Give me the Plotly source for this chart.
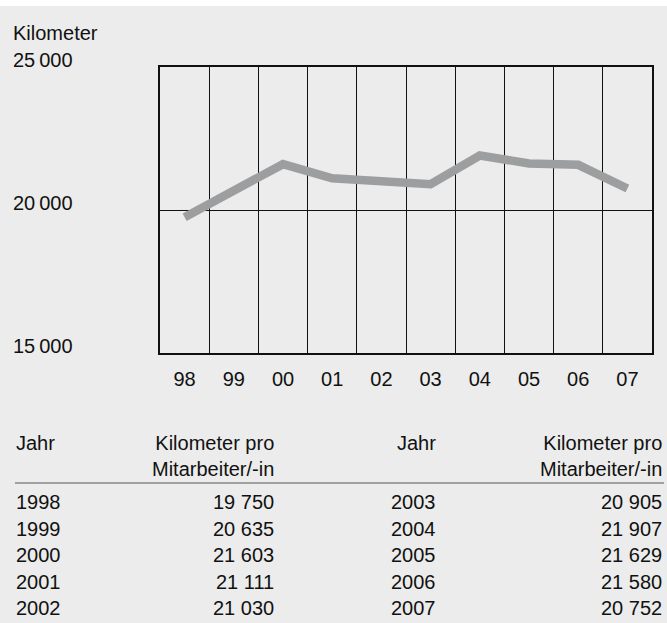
import plotly.graph_objects as go

# ---- data ----
years = [1998, 1999, 2000, 2001, 2002, 2003, 2004, 2005, 2006, 2007]
tick_labels = ["98", "99", "00", "01", "02", "03", "04", "05", "06", "07"]
km_per_employee = [19750, 20635, 21603, 21111, 21030, 20905, 21907, 21629, 21580, 20752]
y_ticks = [15000, 20000, 25000]
y_tick_texts = ["15\u2009000", "20\u2009000", "25\u2009000"]
y_title = "Kilometer"
col_year = "Jahr"
col_value = "Kilometer pro<br>Mitarbeiter/-in"

BG = "#ebeceb"
FONT = "Liberation Sans, Arial, sans-serif"
FS = 20

W, H = 667, 623
L, R, T, B = 160, 15, 67, 270
PW = W - L - R
PH = H - T - B


def px_x(x):
    return (x - L) / PW


def px_y(y):
    return (H - B - y) / PH


fig = go.Figure()
fig.add_trace(go.Scatter(
    x=tick_labels, y=km_per_employee, mode="lines",
    line=dict(color="#9d9e9f", width=8.5),
    hoverinfo="skip", showlegend=False,
))

annotations = []
# y axis labels, left aligned
for v, t in zip(y_ticks, y_tick_texts):
    annotations.append(dict(
        x=px_x(11), xref="paper", xanchor="left",
        y=v, yref="y", yanchor="middle", yshift=7,
        text=t, showarrow=False, font=dict(size=FS, color="#111", family=FONT),
    ))
annotations.append(dict(
    x=px_x(11), xref="paper", xanchor="left",
    y=px_y(33), yref="paper", yanchor="middle",
    text=y_title, showarrow=False, font=dict(size=FS, color="#111", family=FONT),
))

# table
row_y = [502, 528.5, 555, 581.5, 608]
half = len(years) // 2
groups = [(years[:half], km_per_employee[:half], 14, "left", 276),
          (years[half:], km_per_employee[half:], 438, "right", 664)]
for ys, vals, xyear, yal, xval in groups:
    annotations.append(dict(
        x=px_x(xyear), xref="paper", xanchor=yal, y=px_y(443), yref="paper",
        yanchor="middle", text=col_year, showarrow=False,
        font=dict(size=FS, color="#111", family=FONT),
    ))
    annotations.append(dict(
        x=px_x(xval), xref="paper", xanchor="right", y=px_y(455.5), yref="paper",
        yanchor="middle", text=col_value, showarrow=False, align="right",
        font=dict(size=FS, color="#111", family=FONT),
    ))
    for yr, v, ry in zip(ys, vals, row_y):
        annotations.append(dict(
            x=px_x(xyear), xref="paper", xanchor=yal, y=px_y(ry), yref="paper",
            yanchor="middle", text=str(yr), showarrow=False,
            font=dict(size=FS, color="#111", family=FONT),
        ))
        annotations.append(dict(
            x=px_x(xval), xref="paper", xanchor="right", y=px_y(ry), yref="paper",
            yanchor="middle", text=f"{v:,}".replace(",", " "), showarrow=False,
            font=dict(size=FS, color="#111", family=FONT),
        ))

shapes = [
    # header rule
    dict(type="line", xref="paper", yref="paper",
         x0=px_x(15), x1=px_x(664), y0=px_y(483), y1=px_y(483),
         line=dict(color="#555", width=1.2)),
    # white strip at top
    dict(type="rect", xref="paper", yref="paper", layer="below",
         x0=px_x(0), x1=px_x(W), y0=px_y(6), y1=px_y(-2),
         line=dict(width=0), fillcolor="white"),
]

fig.update_layout(
    width=W, height=H,
    margin=dict(l=L, r=R, t=T, b=B),
    paper_bgcolor=BG, plot_bgcolor=BG,
    font=dict(family=FONT, size=FS, color="#111"),
    annotations=annotations, shapes=shapes,
    showlegend=False,
)
fig.update_xaxes(
    type="category", categoryorder="array", categoryarray=tick_labels,
    tickson="boundaries", showgrid=True, gridcolor="#111", gridwidth=1.3,
    showline=True, linecolor="#111", linewidth=1.6, mirror=True,
    ticks="", ticklabelstandoff=7, tickfont=dict(size=FS, family=FONT, color="#111"),
    range=[-0.5, 9.5], zeroline=False, fixedrange=True,
)
fig.update_yaxes(
    range=[15000, 25000], tickvals=y_ticks, showticklabels=False,
    showgrid=True, gridcolor="#111", gridwidth=1.3,
    showline=True, linecolor="#111", linewidth=1.6, mirror=True,
    ticks="", zeroline=False, fixedrange=True,
)

fig.write_html(
    "out.html",
    config=dict(displayModeBar=False),
    post_script="document.body.style.margin='0';document.body.style.padding='0';",
)
